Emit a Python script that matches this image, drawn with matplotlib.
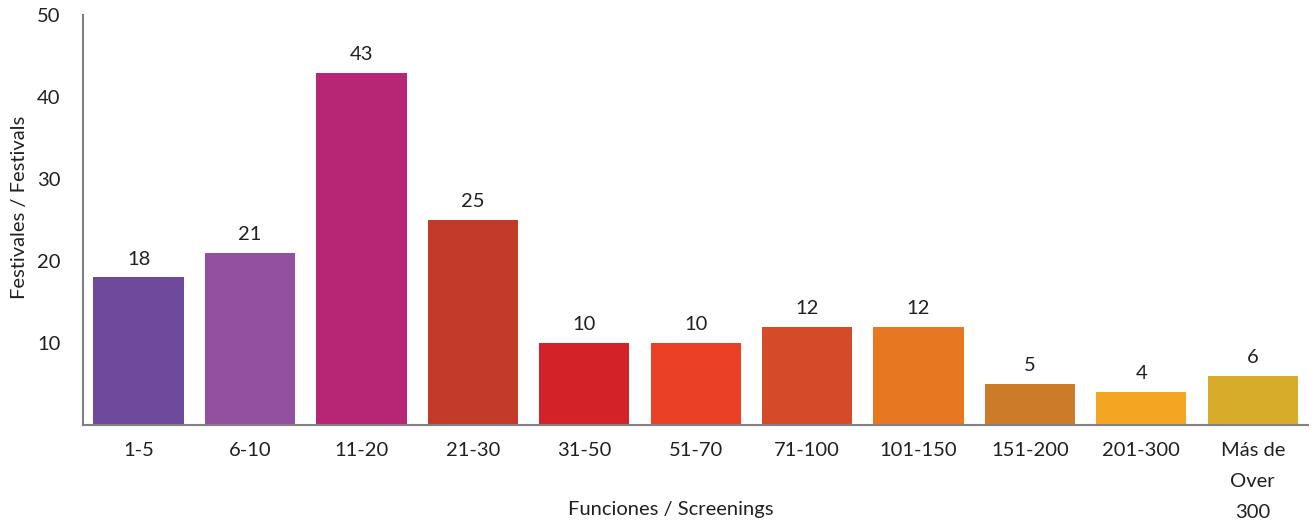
import matplotlib.pyplot as plt

categories = ['1-5', '6-10', '11-20', '21-30', '31-50', '51-70', '71-100',
              '101-150', '151-200', '201-300', 'Más de\nOver\n300']
festivals = [18, 21, 43, 25, 10, 10, 12, 12, 5, 4, 6]
colors = ['#6F4A9C', '#9350A0', '#B72575', '#C43A28', '#D32328', '#EA4126',
          '#D64B27', '#E87722', '#CC7B28', '#F4A623', '#D6AC2A']

plt.rcParams['font.family'] = ['Lato', 'DejaVu Sans']

fig = plt.figure(figsize=(13.15, 5.24), dpi=100)
ax = fig.add_axes([0.063, 0.189, 0.932, 0.782])

x = range(len(categories))
bars = ax.bar(x, festivals, width=0.81, color=colors)
for b, v in zip(bars, festivals):
    ax.text(b.get_x() + b.get_width() / 2, v + 1.2, str(v), ha='center', va='bottom',
            fontsize=14.5, color='#231F20')

ax.set_xlim(-0.5, 10.5)
ax.set_ylim(0, 50)
ax.set_yticks([10, 20, 30, 40, 50])
ax.set_xticks(list(x))
ax.set_xticklabels(categories, fontsize=14.5, color='#231F20', linespacing=2.0)
ax.tick_params(axis='both', length=0, labelsize=14.5, labelcolor='#231F20')
ax.tick_params(axis='x', pad=12)
ax.tick_params(axis='y', pad=16)

for s in ['top', 'right']:
    ax.spines[s].set_visible(False)
for s in ['left', 'bottom']:
    ax.spines[s].set_color('#808080')
    ax.spines[s].set_linewidth(1.5)

ax.set_xlabel('Funciones / Screenings', fontsize=14.5, color='#231F20')
ax.xaxis.set_label_coords(0.48, -0.185)
ax.set_ylabel('Festivales / Festivals', fontsize=14.5, color='#231F20')
ax.yaxis.set_label_coords(-0.045, 0.53)

fig.savefig('out.png')
